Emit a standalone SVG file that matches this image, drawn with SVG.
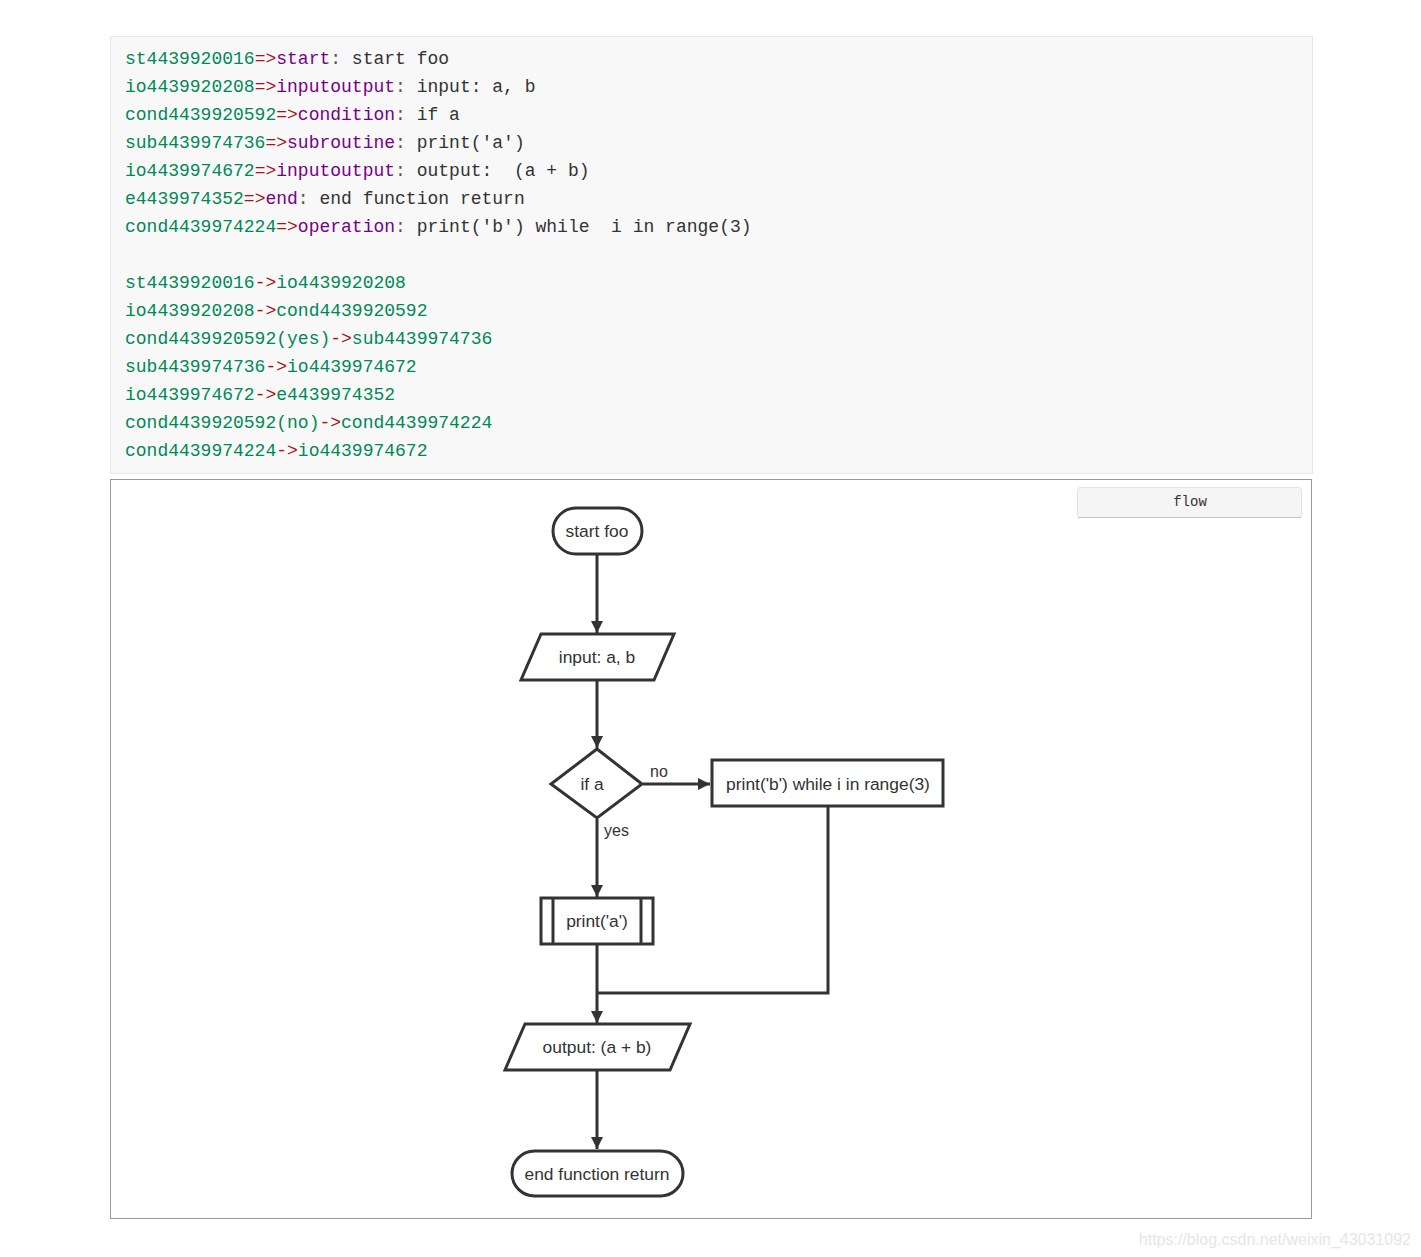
<svg xmlns="http://www.w3.org/2000/svg" width="1421" height="1257" viewBox="0 0 1421 1257">
<defs>
<marker id="arr" viewBox="0 0 10 10" refX="10" refY="5" markerWidth="4" markerHeight="4" orient="auto" markerUnits="strokeWidth">
<path d="M0,0 L10,5 L0,10 z" fill="#333"/>
</marker>
<style>
.code{font-family:"Liberation Mono",monospace;font-size:18px;fill:#333}
.id{fill:#008855}
.op{fill:#aa1111}
.kw{fill:#770088}
.pu{fill:#555}
.shape{fill:#fff;stroke:#333;stroke-width:3}
.lbl{font-family:"Liberation Sans",Arial,sans-serif;font-size:17.4px;fill:#333;text-anchor:middle;dominant-baseline:central}
.cl{font-family:"Liberation Sans",Arial,sans-serif;font-size:16px;fill:#333}
.conn{fill:none;stroke:#333;stroke-width:3}
</style>
</defs>
<rect x="0" y="0" width="1421" height="1257" fill="#fff"/>
<g id="code">
<rect x="110.5" y="36.5" width="1202" height="437" fill="#f8f8f8" stroke="#e8e8e8"/>
<text class="code" xml:space="preserve"><tspan x="125" y="64"><tspan class="id">st4439920016</tspan><tspan class="op">=&gt;</tspan><tspan class="kw">start</tspan><tspan class="pu">:</tspan> start foo</tspan><tspan x="125" y="92"><tspan class="id">io4439920208</tspan><tspan class="op">=&gt;</tspan><tspan class="kw">inputoutput</tspan><tspan class="pu">:</tspan> input: a, b</tspan><tspan x="125" y="120"><tspan class="id">cond4439920592</tspan><tspan class="op">=&gt;</tspan><tspan class="kw">condition</tspan><tspan class="pu">:</tspan> if a</tspan><tspan x="125" y="148"><tspan class="id">sub4439974736</tspan><tspan class="op">=&gt;</tspan><tspan class="kw">subroutine</tspan><tspan class="pu">:</tspan> print('a')</tspan><tspan x="125" y="176"><tspan class="id">io4439974672</tspan><tspan class="op">=&gt;</tspan><tspan class="kw">inputoutput</tspan><tspan class="pu">:</tspan> output:  (a + b)</tspan><tspan x="125" y="204"><tspan class="id">e4439974352</tspan><tspan class="op">=&gt;</tspan><tspan class="kw">end</tspan><tspan class="pu">:</tspan> end function return</tspan><tspan x="125" y="232"><tspan class="id">cond4439974224</tspan><tspan class="op">=&gt;</tspan><tspan class="kw">operation</tspan><tspan class="pu">:</tspan> print('b') while  i in range(3)</tspan><tspan x="125" y="288"><tspan class="id">st4439920016</tspan><tspan class="op">-&gt;</tspan><tspan class="id">io4439920208</tspan></tspan><tspan x="125" y="316"><tspan class="id">io4439920208</tspan><tspan class="op">-&gt;</tspan><tspan class="id">cond4439920592</tspan></tspan><tspan x="125" y="344"><tspan class="id">cond4439920592(yes)</tspan><tspan class="op">-&gt;</tspan><tspan class="id">sub4439974736</tspan></tspan><tspan x="125" y="372"><tspan class="id">sub4439974736</tspan><tspan class="op">-&gt;</tspan><tspan class="id">io4439974672</tspan></tspan><tspan x="125" y="400"><tspan class="id">io4439974672</tspan><tspan class="op">-&gt;</tspan><tspan class="id">e4439974352</tspan></tspan><tspan x="125" y="428"><tspan class="id">cond4439920592(no)</tspan><tspan class="op">-&gt;</tspan><tspan class="id">cond4439974224</tspan></tspan><tspan x="125" y="456"><tspan class="id">cond4439974224</tspan><tspan class="op">-&gt;</tspan><tspan class="id">io4439974672</tspan></tspan></text>
</g>
<g id="frame">
<rect x="110.5" y="479.5" width="1201" height="739" fill="#fff" stroke="#999"/>
</g>
<g id="flow-button">
<rect x="1077.5" y="487.5" width="224" height="30" rx="3" fill="#f5f5f5" stroke="#e2e2e2"/>
<line x1="1078" y1="517.5" x2="1301" y2="517.5" stroke="#c8c8c8"/>
<text x="1190" y="506" font-family="Liberation Mono,monospace" font-size="14" fill="#333" text-anchor="middle">flow</text>
</g>
<g id="connectors">
<line class="conn" x1="597" y1="555" x2="597" y2="633" marker-end="url(#arr)"/>
<line class="conn" x1="597" y1="681" x2="597" y2="748" marker-end="url(#arr)"/>
<line class="conn" x1="643" y1="784" x2="710" y2="784" marker-end="url(#arr)"/>
<line class="conn" x1="597" y1="819" x2="597" y2="897" marker-end="url(#arr)"/>
<line class="conn" x1="597" y1="945" x2="597" y2="1023" marker-end="url(#arr)"/>
<polyline class="conn" points="828,807 828,993 597,993"/>
<line class="conn" x1="597" y1="1071" x2="597" y2="1149" marker-end="url(#arr)"/>
<text class="cl" x="650" y="777">no</text>
<text class="cl" x="604" y="836">yes</text>
</g>
<g id="st4439920016">
<rect class="shape" x="553" y="508" width="89" height="46" rx="23"/>
<text class="lbl" x="597" y="531">start foo</text>
</g>
<g id="io4439920208">
<polygon class="shape" points="541,634 674,634 654,680 521,680"/>
<text class="lbl" x="597" y="657">input: a, b</text>
</g>
<g id="cond4439920592">
<polygon class="shape" points="597,749 642,784 597,818 551,784"/>
<text class="lbl" x="592" y="784">if a</text>
</g>
<g id="cond4439974224">
<rect class="shape" x="712" y="760" width="231" height="46"/>
<text class="lbl" x="828" y="784">print('b') while i in range(3)</text>
</g>
<g id="sub4439974736">
<rect class="shape" x="541" y="898" width="112" height="46"/>
<line class="conn" x1="553" y1="898" x2="553" y2="944"/>
<line class="conn" x1="641" y1="898" x2="641" y2="944"/>
<text class="lbl" x="597" y="921">print('a')</text>
</g>
<g id="io4439974672">
<polygon class="shape" points="525,1024 690,1024 670,1070 505,1070"/>
<text class="lbl" x="597" y="1047">output: (a + b)</text>
</g>
<g id="e4439974352">
<rect class="shape" x="512" y="1151" width="171" height="45" rx="22.5"/>
<text class="lbl" x="597" y="1174">end function return</text>
</g>
<text x="1411" y="1245" font-family="Liberation Sans,Arial,sans-serif" font-size="16" fill="#e6e6e6" text-anchor="end">https://blog.csdn.net/weixin_43031092</text>
</svg>
